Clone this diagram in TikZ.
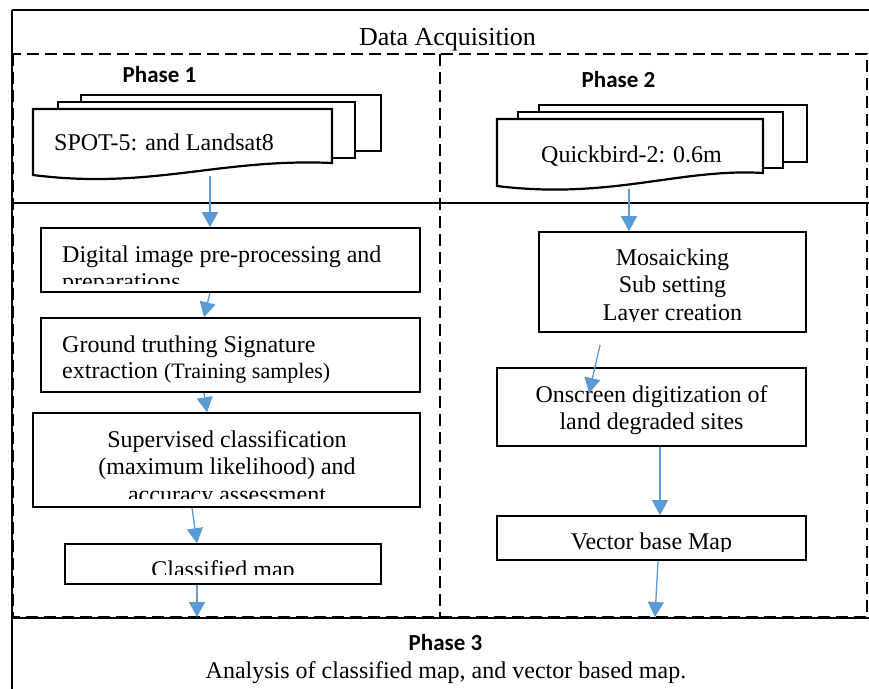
\documentclass[tikz,border=0pt]{standalone}
\usepackage{fontspec}
\setmainfont{Liberation Serif}
\newfontfamily\phasefont{Carlito}
\usetikzlibrary{arrows.meta}
\definecolor{flowblue}{HTML}{5B9BD5}
\tikzset{
  frame/.style={line width=1.8pt},
  dashframe/.style={line width=2.8pt, dash pattern=on 12pt off 6pt},
  box/.style={draw, line width=1.6pt, inner sep=0pt},
  page/.style={draw, line width=2.2pt, fill=white},
  flow/.style={draw=flowblue, line width=1.3pt, -{Triangle[length=15pt,width=16pt]}},
  txt/.style={inner sep=0pt, font=\fontsize{24}{27.6}\selectfont, align=center},
  phase/.style={inner sep=0pt, font=\phasefont\bfseries\fontsize{23}{27}\selectfont}
}
\begin{document}
\begin{tikzpicture}[x=1pt, y=-1pt]
    \clip (0,0) rectangle (869,688);

    \draw[frame] (12,10) -- (875,10);
    \draw[frame] (12,10) -- (12,695);
    \draw[frame] (12,203) -- (875,203);
    \draw[frame] (12,618) -- (875,618);
    \draw[dashframe] (13,54) rectangle (867,617);
    \draw[dashframe] (440,54) -- (440,617);

    \node[txt, font=\fontsize{26}{30}\selectfont, anchor=base] (acq) at (447.5,45) {Data Acquisition};
    \node[phase, anchor=base] (ph1) at (159.5,82) {Phase 1};
    \node[phase, anchor=base] (ph2) at (618.5,87) {Phase 2};

    % phase 1 input
    \draw[page] (81,95) rectangle (381,151);
    \draw[page] (58,102) rectangle (355,158);
    \draw[page] (33,109) -- (332,109) -- (332,163) .. controls (220,158) and (150,190) .. (33,175) -- cycle;
    \node[txt, anchor=base west] (spot) at (54,150) {SPOT-5: and Landsat8};

    % phase 2 input
    \draw[page] (539,105) rectangle (807,162);
    \draw[page] (518,112) rectangle (783,168);
    \draw[page] (497,119) -- (763,119) -- (763,173) .. controls (680,168) and (610,200) .. (497,186) -- cycle;
    \node[txt, anchor=base west] (quick) at (541,162) {Quickbird-2: 0.6m};

    % phase 1 steps (base = last line)
    \node[box, minimum width=379pt, minimum height=64pt] (pre) at (230.5,260) {};
    \begin{scope}
      \clip (pre.north west) rectangle ([yshift=9pt]pre.south east);
      \node[txt, anchor=base west, align=left] (pretxt) at (62,289.6) {Digital image pre-processing and\\preparations};
    \end{scope}

    \node[box, minimum width=379pt, minimum height=74pt] (truth) at (230.5,355) {};
    \begin{scope}
      \clip (truth.north west) rectangle ([yshift=9pt]truth.south east);
      \node[txt, anchor=base west, align=left, font=\fontsize{24}{26}\selectfont] (truthtxt) at (62,378) {Ground truthing Signature\\extraction {\fontsize{22}{26}\selectfont(Training samples)}};
    \end{scope}

    \node[box, minimum width=387pt, minimum height=94pt] (sup) at (226.5,460) {};
    \begin{scope}
      \clip (sup.north west) rectangle ([yshift=9pt]sup.south east);
      \node[txt, anchor=base] (suptxt) at (227,502.2) {Supervised classification\\(maximum likelihood) and\\accuracy assessment};
    \end{scope}

    \node[box, minimum width=316pt, minimum height=40pt] (clsmap) at (223,564) {};
    \begin{scope}
      \clip (clsmap.north west) rectangle ([yshift=10pt]clsmap.south east);
      \node[txt, anchor=base] (clstxt) at (223,577.5) {Classified map};
    \end{scope}

    % phase 2 steps
    \node[box, minimum width=267pt, minimum height=100pt] (mosaic) at (672.5,282) {};
    \begin{scope}
      \clip (mosaic.north west) rectangle ([yshift=11pt]mosaic.south east);
      \node[txt, anchor=base] (mostxt) at (672.5,320.2) {Mosaicking\\Sub setting\\Layer creation};
    \end{scope}

    \node[box, minimum width=309pt, minimum height=78pt] (onscreen) at (651.5,407) {};
    \node[txt, anchor=base] (ontxt) at (651.5,429.6) {Onscreen digitization of\\land degraded sites};

    \node[box, minimum width=309pt, minimum height=44pt] (vector) at (651.5,538) {};
    \begin{scope}
      \clip (vector.north west) rectangle ([yshift=9pt]vector.south east);
      \node[txt, anchor=base] (vectxt) at (651.5,549) {Vector base Map};
    \end{scope}

    % phase 3
    \node[phase, anchor=base] (ph3) at (445.5,650) {Phase 3};
    \node[txt, anchor=base] (anl) at (446,678) {Analysis of classified map, and vector based map.};

    % arrows
    \coordinate (a1) at (210,176);
    \coordinate (a6) at (629,189);
    \coordinate (a7s) at (600,345);
    \coordinate (a7e) at (589,393);
    \coordinate (in3a) at (197,617);
    \coordinate (in3b) at (655,617);
    \draw[flow] (a1) -- (a1 |- pre.north);
    \draw[flow] ([xshift=-20.5pt]pre.south) -- ([xshift=-26.5pt]truth.north);
    \draw[flow] ([xshift=-26.5pt]truth.south) -- ([xshift=-19.5pt]sup.north);
    \draw[flow] ([xshift=-34.5pt]sup.south) -- ([xshift=-26pt]clsmap.north);
    \draw[flow] ([xshift=-26pt]clsmap.south) -- (in3a);
    \draw[flow] (a6) -- (a6 |- mosaic.north);
    \draw[flow] (a7s) -- (a7e);
    \draw[flow] ([xshift=8.5pt]onscreen.south) -- ([xshift=8.5pt]vector.north);
    \draw[flow] ([xshift=6.5pt]vector.south) -- (in3b);
%    \draw[flow] (mosaic.south) -- (onscreen.north);
  \end{tikzpicture}
\end{document}
